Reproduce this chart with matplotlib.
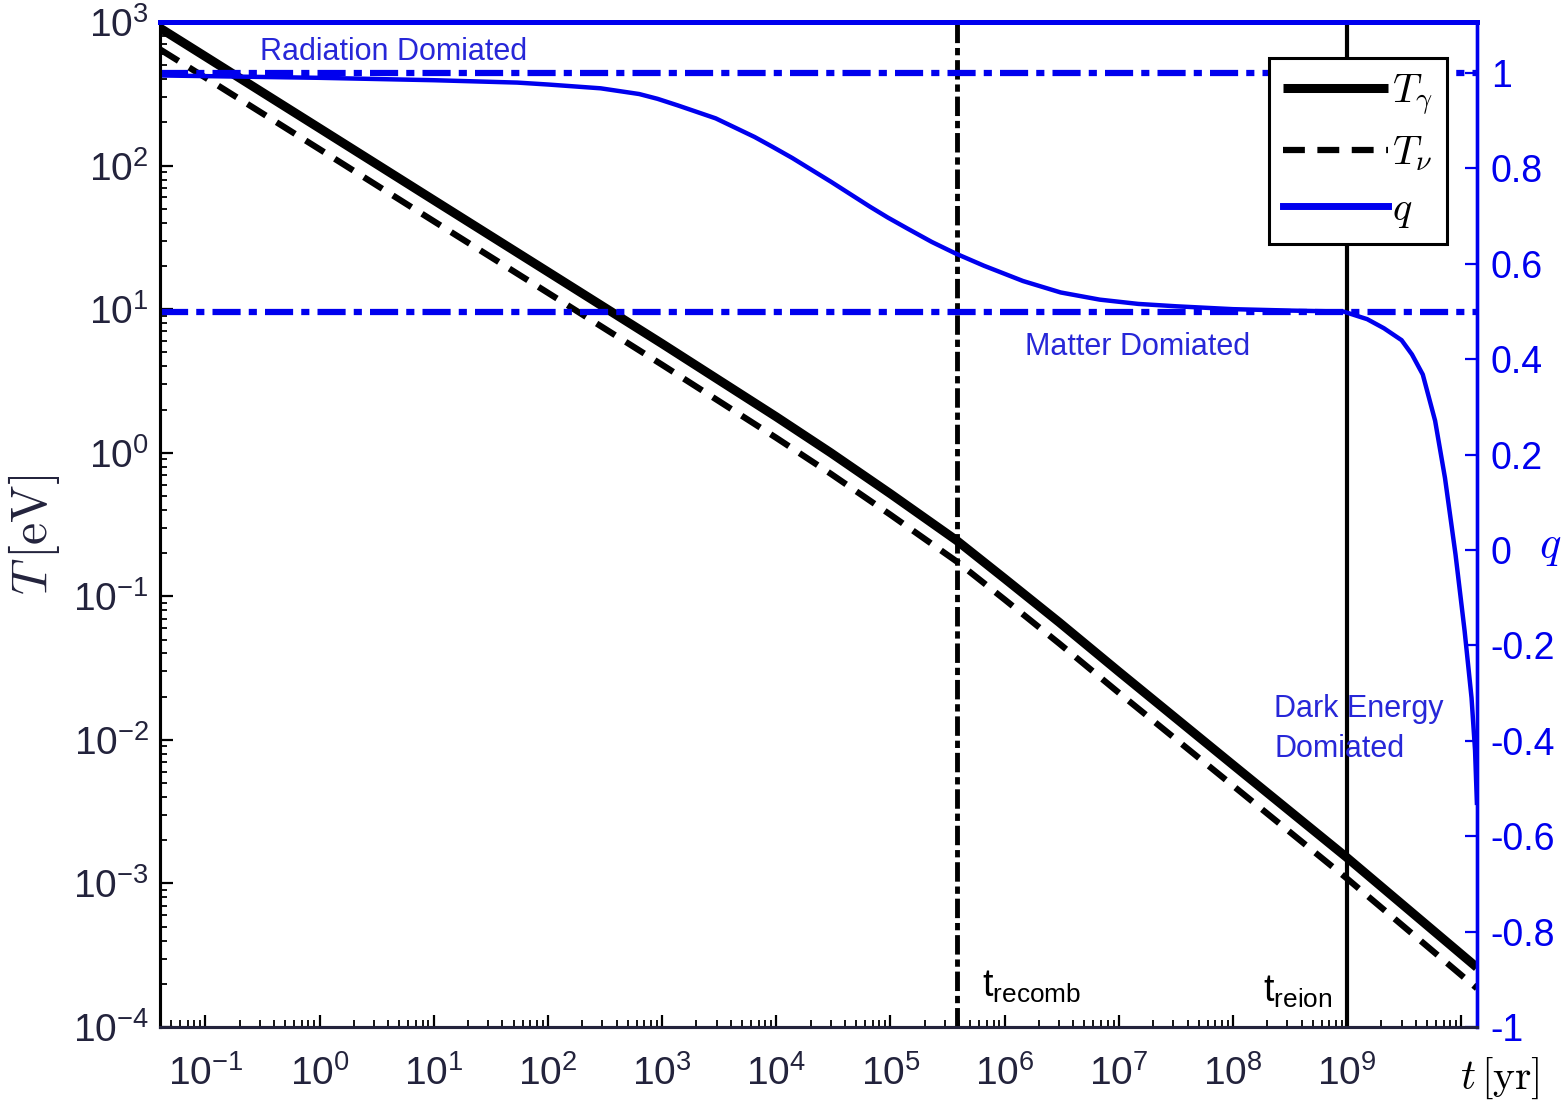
import matplotlib
matplotlib.use('Agg')
import matplotlib.pyplot as plt
from matplotlib.font_manager import FontProperties
from matplotlib.ticker import FixedLocator, FixedFormatter, LogLocator, NullFormatter

# photon / neutrino temperature vs cosmic time (yr, eV)
t_T = [0.04, 0.1, 1, 10, 100, 1e3, 1e4, 3e4, 1e5, 3.8e5, 1e6, 3e6, 1e7, 1e8, 1e9, 1.37e10]
T_gamma = [908, 575, 182, 57.5, 18.2, 5.75, 1.78, 1.0, 0.518, 0.245, 0.133, 0.066, 0.0299,
           6.7e-3, 1.51e-3, 2.6e-4]
T_nu = [645, 410, 130, 41, 13, 4.1, 1.27, 0.714, 0.37, 0.175, 0.095, 0.047, 0.0213,
        4.8e-3, 1.08e-3, 1.86e-4]

# deceleration parameter q(t)
t_q = [0.04, 1, 10, 54, 100, 290, 631, 912, 1380, 2950, 6460, 9330, 1.38e4, 3.02e4, 6.6e4,
       9.5e4, 1.41e5, 2.3e5, 3.7e5, 6.6e5, 1.45e6, 3.1e6, 6.8e6, 1.48e7, 3.2e7, 1e8, 3.2e8,
       9.3e8, 1.5e9, 2.1e9, 3.0e9, 3.7e9, 4.6e9, 5.9e9, 7.2e9, 8.9e9, 1.07e10, 1.23e10,
       1.32e10, 1.37e10]
q = [0.995, 0.99, 0.985, 0.98, 0.976, 0.968, 0.956, 0.946, 0.932, 0.905, 0.866, 0.845, 0.822,
     0.772, 0.72, 0.697, 0.674, 0.646, 0.622, 0.596, 0.564, 0.540, 0.525, 0.516, 0.511, 0.505,
     0.502, 0.50, 0.484, 0.465, 0.44, 0.41, 0.368, 0.271, 0.151, -0.009, -0.17, -0.31,
     -0.42, -0.53]

t_recomb = 3.8e5
t_reion = 1e9
q_rad, q_mat = 1.0, 0.5

x_ticks = [10.0**k for k in range(-1, 11)]
x_labels = [r'$\mathregular{10^{%d}}$' % k for k in range(-1, 10)] + ['']
q_ticks = [-1, -0.8, -0.6, -0.4, -0.2, 0, 0.2, 0.4, 0.6, 0.8, 1]
q_labels = ['-1', '-0.8', '-0.6', '-0.4', '-0.2', '0', '0.2', '0.4', '0.6', '0.8', '1']

plt.rcParams['font.family'] = 'Liberation Sans'
plt.rcParams['mathtext.fontset'] = 'custom'
plt.rcParams['mathtext.rm'] = 'Liberation Sans'
plt.rcParams['mathtext.it'] = 'Liberation Sans:italic'
plt.rcParams['mathtext.bf'] = 'Liberation Sans:bold'

blue = '#0000ee'
blue_txt = '#2727d8'
navy = '#23233c'

fig = plt.figure(figsize=(15.65, 11.01), dpi=100)
ax = fig.add_axes([0.1022, 0.0672, 0.8415, 0.9128])
ax2 = ax.twinx()

l1, = ax.plot(t_T, T_gamma, color='k', lw=6.5, solid_capstyle='butt')
l2, = ax.plot(t_T, T_nu, color='k', lw=4.5, dashes=(3.5, 2.0))
ax.axvline(t_recomb, color='k', lw=3.5, dashes=(4, 1, 1.5, 1))
ax.axvline(t_reion, color='k', lw=3)

ax.set_xscale('log')
ax.set_yscale('log')
ax.set_xlim(0.04, 1.37e10)
ax.set_ylim(1e-4, 1e3)
ax.xaxis.set_major_locator(FixedLocator(x_ticks))
ax.xaxis.set_major_formatter(FixedFormatter(x_labels))
ax.xaxis.set_minor_locator(LogLocator(base=10, subs=range(2, 10), numticks=50))
ax.xaxis.set_minor_formatter(NullFormatter())
ax.yaxis.set_major_locator(LogLocator(base=10, numticks=20))
ax.yaxis.set_minor_locator(LogLocator(base=10, subs=range(2, 10), numticks=50))
ax.yaxis.set_minor_formatter(NullFormatter())
ax.tick_params(which='both', direction='in', top=False, right=False, colors='k',
               labelcolor=navy, labelsize=28)
ax.tick_params(which='major', length=9, width=1.6)
ax.tick_params(which='minor', length=5, width=1.3)
ax.tick_params(axis='x', pad=20)
ax.tick_params(axis='y', pad=8)

ax2.plot(t_q, q, color=blue, lw=3.2)
l3, = ax2.plot([], [], color=blue, lw=5)
ax2.axhline(q_rad, color=blue, lw=4.5, dashes=(4.5, 1.3, 1.3, 1.3))
ax2.axhline(q_mat, color=blue, lw=4.5, dashes=(4.5, 1.3, 1.3, 1.3))
ax2.set_ylim(-1, 1.107)
ax2.yaxis.set_major_locator(FixedLocator(q_ticks))
ax2.yaxis.set_major_formatter(FixedFormatter(q_labels))
ax2.tick_params(axis='y', direction='in', length=9, width=1.6, colors=blue,
                labelsize=27, pad=10)

for a in (ax, ax2):
    a.spines['left'].set_color('k')
    a.spines['left'].set_linewidth(2.2)
    a.spines['bottom'].set_color(navy)
    a.spines['bottom'].set_linewidth(2.2)
    a.spines['top'].set_color(blue)
    a.spines['top'].set_linewidth(3.6)
    a.spines['right'].set_color(blue)
    a.spines['right'].set_linewidth(2.4)

ax2.text(0.30, 1.045, 'Radiation Domiated', color=blue_txt, fontsize=22, va='center')
ax2.text(1.5e6, 0.426, 'Matter Domiated', color=blue_txt, fontsize=22, va='center')
ax2.text(2.3e8, -0.375, 'Dark Energy\nDomiated', color=blue_txt, fontsize=22,
         va='center', linespacing=1.4)
ax.text(6.3e5, 1.9e-4, r'$\mathrm{t_{recomb}}$', color='k', fontsize=27, va='center')
ax.text(1.85e8, 1.75e-4, r'$\mathrm{t_{reion}}$', color='k', fontsize=27, va='center')

ax.set_ylabel(r'$T\,[\mathrm{eV}]$', fontsize=36, math_fontfamily='cm', color=navy)
ax.yaxis.set_label_coords(-0.074, 0.49)
ax2.set_ylabel(r'$q$', fontsize=32, math_fontfamily='cm', color=blue, rotation=0,
               va='center')
ax2.yaxis.set_label_coords(1.056, 0.477)
fig.text(1500 / 1565, 1 - 1056 / 1101, r'$t\,[\mathrm{yr}]$', fontsize=30,
         math_fontfamily='cm', ha='center', va='top', color='k')

leg = ax2.legend([l1, l2, l3], [r'$T_\gamma$', r'$T_\nu$', r'$q$'], loc='upper right',
                 bbox_to_anchor=(0.977, 0.964), prop=FontProperties(size=29, math_fontfamily='cm'),
                 frameon=True, fancybox=False, edgecolor='k', framealpha=1,
                 handlelength=2.6, handletextpad=0.1, borderaxespad=0, labelspacing=0.42,
                 borderpad=0.35)
leg.get_frame().set_linewidth(2.2)

fig.savefig('out.png', dpi=100)
